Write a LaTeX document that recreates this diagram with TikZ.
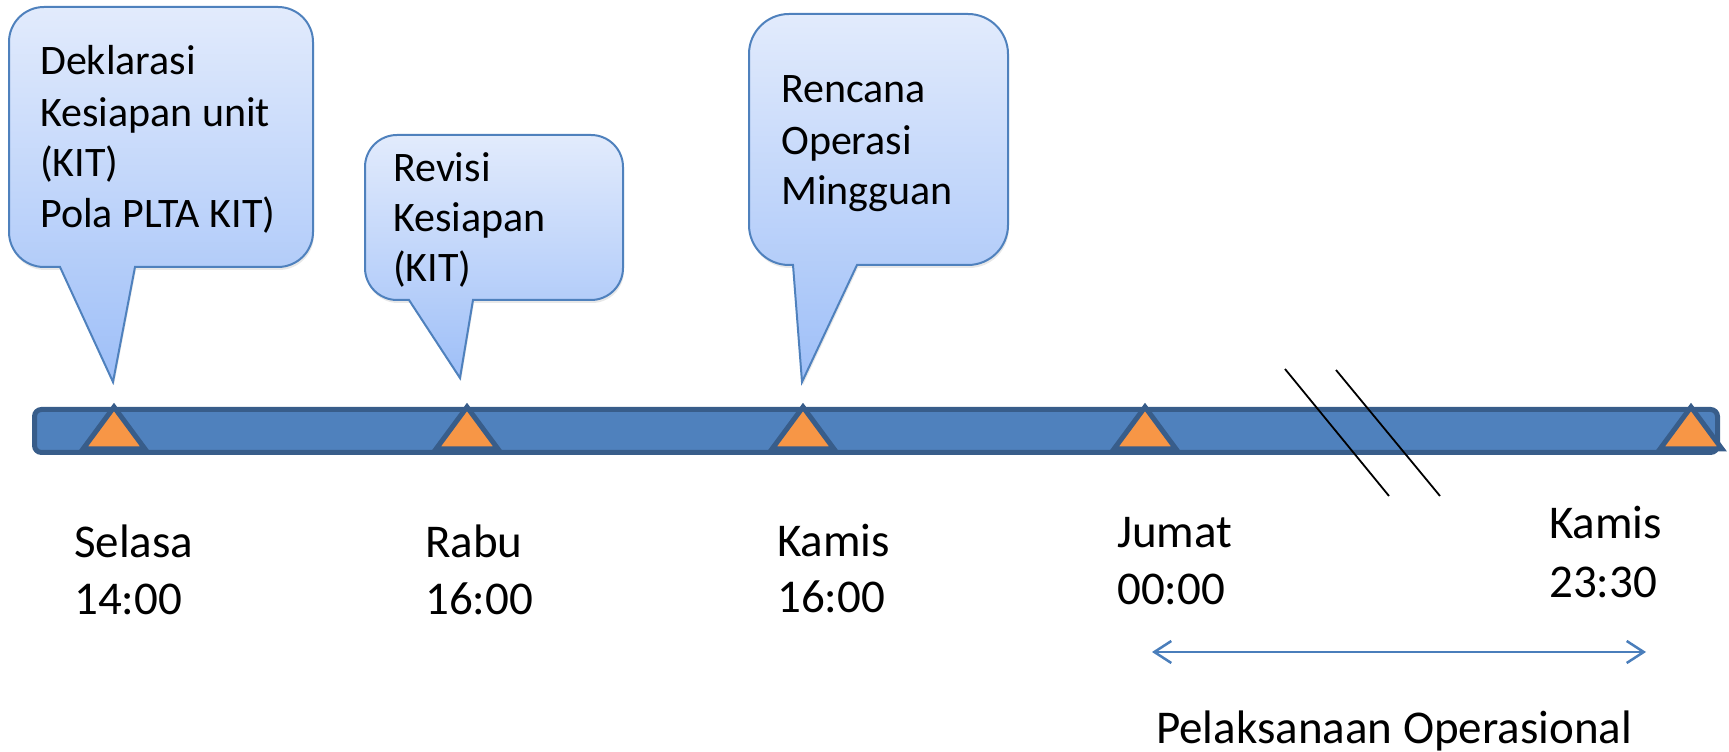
\documentclass[tikz,border=0pt]{standalone}
\usepackage{fontspec}
\setmainfont{Carlito}
\usetikzlibrary{arrows.meta,shadows}

\definecolor{barblue}{RGB}{79,129,189}
\definecolor{baredge}{RGB}{56,93,138}
\definecolor{tickorange}{RGB}{247,150,70}
\definecolor{calltop}{RGB}{226,235,252}
\definecolor{callbot}{RGB}{158,191,248}
\definecolor{calledge}{RGB}{79,129,189}
\definecolor{spanblue}{RGB}{74,126,187}

% speech bubble: x-left, x-right, y-top, y-bottom, corner radius,
% tail left, tail right, tip x, tip y
\newcommand\speechbubble[9]{%
  \path[callout] (#6,#4) -- ({#1+#5},#4)
    arc[start angle=270,end angle=180,radius=#5pt]
    -- (#1,{#3-#5}) arc[start angle=180,end angle=90,radius=#5pt]
    -- ({#2-#5},#3) arc[start angle=90,end angle=0,radius=#5pt]
    -- (#2,{#4+#5}) arc[start angle=0,end angle=-90,radius=#5pt]
    -- (#7,#4) -- (#8,#9) -- cycle;}

\tikzset{
  callout/.style={draw=calledge, line width=2pt, top color=calltop,
    bottom color=callbot,
    drop shadow={opacity=0.18, shadow xshift=1pt, shadow yshift=-3pt}},
  boxtext/.style={anchor=base west, inner sep=0pt,
    font=\fontsize{42}{51}\selectfont},
  daytext/.style={anchor=base west, inner sep=0pt,
    font=\fontsize{47}{57}\selectfont},
  timebar/.style={fill=barblue, draw=baredge, line width=5pt,
    rounded corners=7pt},
  tickmark/.style={fill=tickorange, draw=baredge, line width=5pt,
    line join=miter},
  breakline/.style={draw=black, line width=1.8pt},
  span/.style={draw=spanblue, line width=2.5pt,
    {Straight Barb[length=17pt,width=22pt]}-{Straight Barb[length=17pt,width=22pt]}}
}

\begin{document}
\begin{tikzpicture}[x=1pt,y=1pt]
\useasboundingbox (0,0) rectangle (1729,752);

% callouts
\speechbubble{9}{313}{745}{485}{35}{60}{135}{113}{370}
\speechbubble{365}{623}{617}{452}{32}{409}{473}{460}{374}
\speechbubble{749}{1008}{738}{487}{40}{793}{857}{802}{370}

\node[boxtext] (c1a) at (40,677) {Deklarasi};
\node[boxtext] (c1b) at (40,625) {Kesiapan unit};
\node[boxtext] (c1c) at (40,575) {(KIT)};
\node[boxtext] (c1d) at (40,524) {Pola PLTA KIT)};

\node[boxtext] (c2a) at (393,570) {Revisi};
\node[boxtext] (c2b) at (393,520) {Kesiapan};
\node[boxtext] (c2c) at (393,470) {(KIT)};

\node[boxtext] (c3a) at (781,649) {Rencana};
\node[boxtext] (c3b) at (781,597) {Operasi};
\node[boxtext] (c3c) at (781,547) {Mingguan};

% time bar
\path[timebar] (34.5,299.5) rectangle (1717.5,342.5);

% break marks
\coordinate (b1t) at (1285,383);
\coordinate (b1b) at (1389,256);
\coordinate (b2t) at (1336,382);
\coordinate (b2b) at (1440,256);
\draw[breakline] (b1t) -- (b1b);
\draw[breakline] (b2t) -- (b2b);

% milestones on the bar
\foreach \cx [count=\i] in {114,467,803,1145,1691}{
  \coordinate (m\i) at (\cx,345);
  \path[tickmark] (m\i) -- ++(31,-42) -- ++(-62,0) -- cycle;
}

% day and time labels
\node[daytext] (d1a) at (74,194) {Selasa};
\node[daytext] (d1b) at (74,137) {14:00};
\node[daytext] (d2a) at (425,194) {Rabu};
\node[daytext] (d2b) at (425,137) {16:00};
\node[daytext] (d3a) at (777,195) {Kamis};
\node[daytext] (d3b) at (777,139) {16:00};
\node[daytext] (d4a) at (1117,204) {Jumat};
\node[daytext] (d4b) at (1117,147) {00:00};
\node[daytext] (d5a) at (1549,213) {Kamis};
\node[daytext] (d5b) at (1549,154) {23:30};

% operational span
\coordinate (spanL) at (1152,100);
\coordinate (spanR) at (1646,100);
\draw[span] (spanL) -- (spanR);
\node[daytext] (ops) at (1156,9) {Pelaksanaan Operasional};

\end{tikzpicture}
\end{document}
